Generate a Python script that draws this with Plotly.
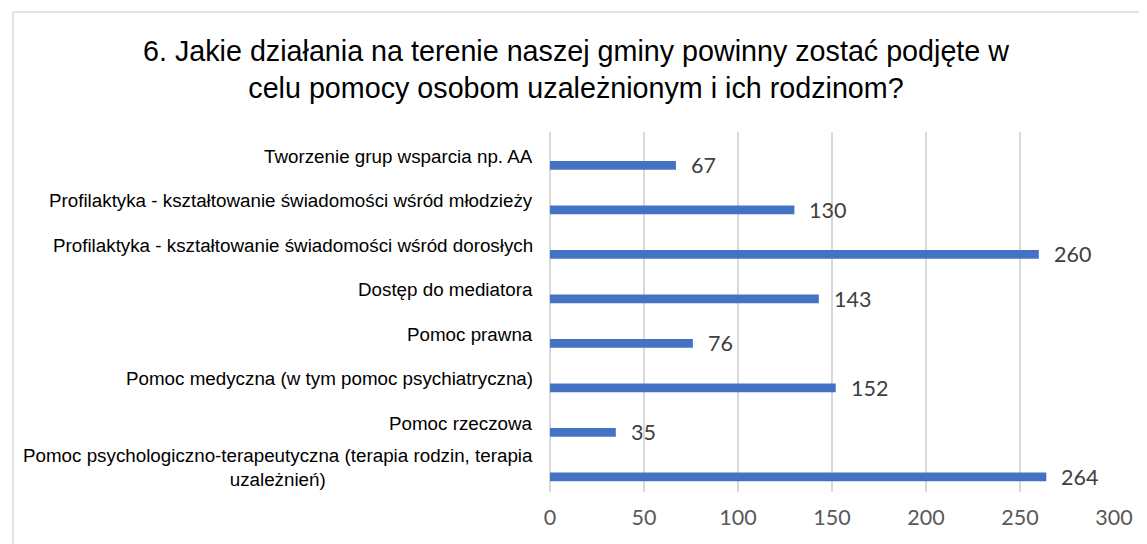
import plotly.graph_objects as go

categories = [
    "Tworzenie grup wsparcia np. AA",
    "Profilaktyka - kształtowanie świadomości wśród młodzieży",
    "Profilaktyka - kształtowanie świadomości wśród dorosłych",
    "Dostęp do mediatora",
    "Pomoc prawna",
    "Pomoc medyczna (w tym pomoc psychiatryczna)",
    "Pomoc rzeczowa",
    "Pomoc psychologiczno-terapeutyczna (terapia rodzin, terapia<br>uzależnień)",
]
values = [67, 130, 260, 143, 76, 152, 35, 264]
x_ticks = [0, 50, 100, 150, 200, 250, 300]
title_text = ("6. Jakie działania na terenie naszej gminy powinny zostać podjęte w<br>"
              "celu pomocy osobom uzależnionym i ich rodzinom?")

# the page body has an 8px default margin, so the figure is sized to fit
OFF = 8
W, H = 1147 - OFF, 544 - OFF
ML, MR, MT, MB = 550 - OFF, 33, 132 - OFF, 52
PW = W - ML - MR
PH = H - MT - MB

fig = go.Figure()
fig.add_trace(go.Bar(
    x=values, y=categories, orientation="h",
    width=0.2, offset=0.11,
    marker=dict(color="#4472C4", line=dict(width=0)),
    hoverinfo="skip",
))

annotations = []
for c, v in zip(categories, values):
    annotations.append(dict(
        x=0, xref="paper", y=c, yref="y", text=c, showarrow=False,
        xanchor="right", yanchor="middle", align="center", xshift=-15,
        font=dict(family="Liberation Sans, Arial", size=18.8, color="#000000"),
    ))
    annotations.append(dict(
        x=v, xref="x", y=c, yref="y", text=str(v), showarrow=False,
        xanchor="left", yanchor="middle", xshift=13, yshift=-9,
        font=dict(family="Lato", size=21.5, color="#404040"),
    ))

def px_to_paper_x(px):
    return (px - OFF - ML) / PW

def px_to_paper_y(py):
    return 1 - (py - OFF - MT) / PH

shapes = [
    dict(type="line", xref="paper", yref="paper",
         x0=px_to_paper_x(13), x1=px_to_paper_x(13),
         y0=px_to_paper_y(12), y1=px_to_paper_y(H + 40),
         line=dict(color="#d9d9d9", width=1.5)),
    dict(type="line", xref="paper", yref="paper",
         x0=px_to_paper_x(13), x1=px_to_paper_x(W + 40),
         y0=px_to_paper_y(12), y1=px_to_paper_y(12),
         line=dict(color="#d9d9d9", width=1.5)),
]

fig.update_layout(
    width=W, height=H,
    margin=dict(l=ML, r=MR, t=MT, b=MB, pad=0, autoexpand=False),
    paper_bgcolor="white", plot_bgcolor="white",
    showlegend=False,
    title=dict(
        text=title_text, x=(576 - OFF) / W, xref="container", xanchor="center",
        y=1 - 53 / H, yref="container", yanchor="top",
        font=dict(family="Liberation Sans, Arial", size=28.7, color="#000000"),
    ),
    xaxis=dict(
        range=[0, 300], tickvals=x_ticks, showgrid=True,
        gridcolor="#d9d9d9", gridwidth=1.5,
        zeroline=True, zerolinecolor="#d9d9d9", zerolinewidth=1.5,
        showline=False, ticks="", automargin=False,
        tickfont=dict(family="Lato", size=21.5, color="#595959"),
        ticklabelstandoff=10, fixedrange=True,
    ),
    yaxis=dict(
        categoryorder="array", categoryarray=categories,
        autorange="reversed", showgrid=False, showticklabels=False,
        zeroline=False, showline=False, ticks="", fixedrange=True,
        automargin=False,
    ),
    annotations=annotations,
    shapes=shapes,
)

fig.write_html("out.html")
